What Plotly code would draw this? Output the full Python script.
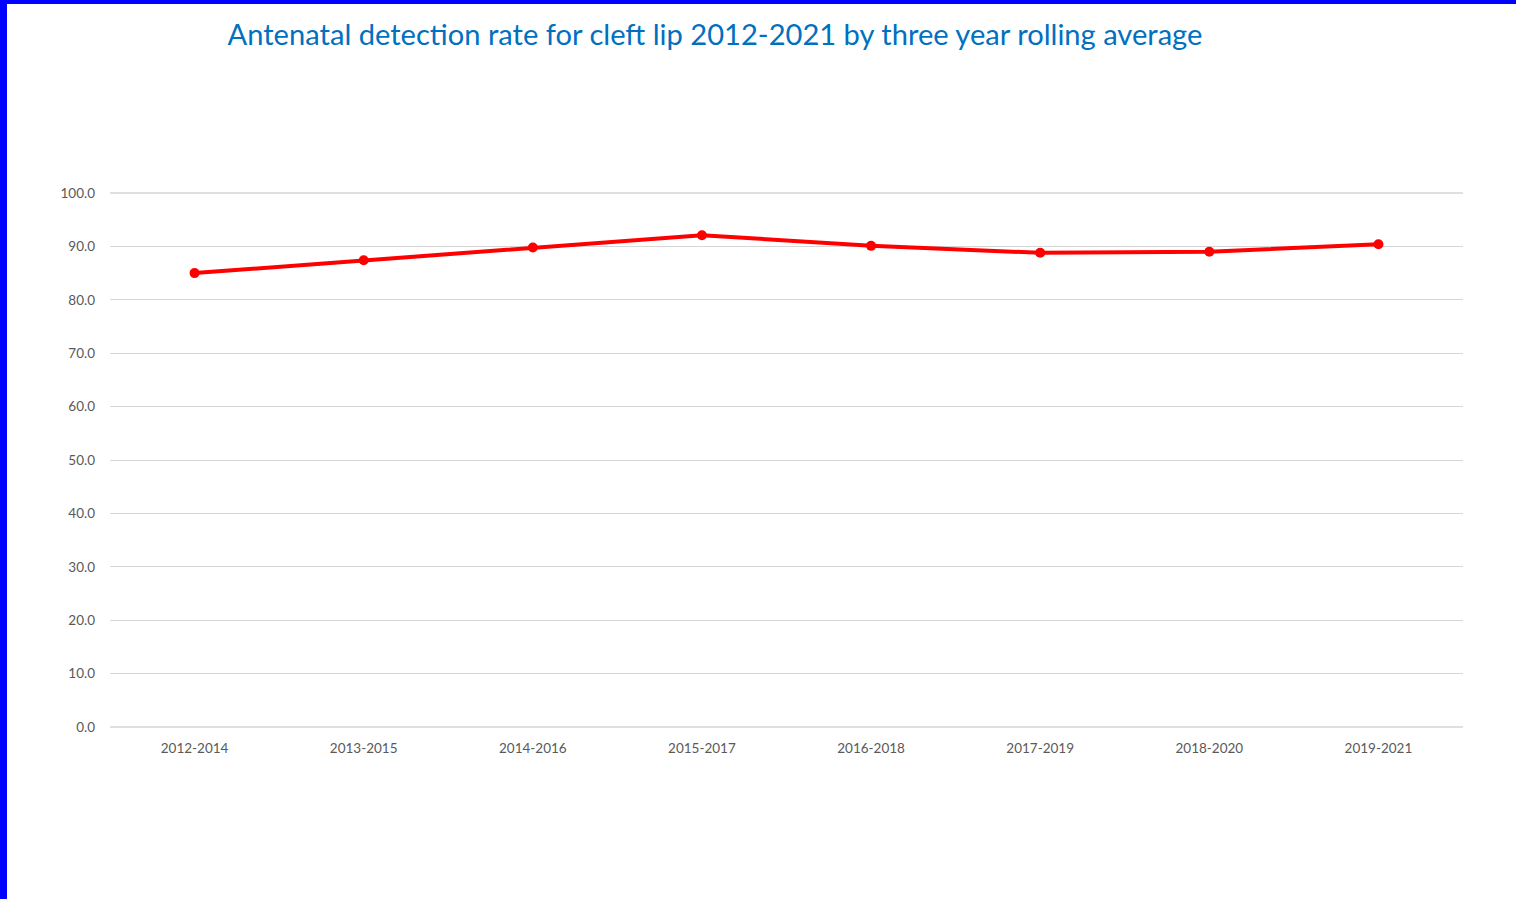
import plotly.graph_objects as go

periods = ["2012-2014", "2013-2015", "2014-2016", "2015-2017",
           "2016-2018", "2017-2019", "2018-2020", "2019-2021"]
detection_rate = [85.0, 87.4, 89.8, 92.1, 90.1, 88.8, 89.0, 90.4]
y_ticks = [0, 10, 20, 30, 40, 50, 60, 70, 80, 90, 100]

W, H = 1516, 899
L, R, T, B = 110, 53, 193, 172
pw, ph = W - L - R, H - T - B

def px_x(p):
    return (p - L) / pw

def px_y(p):
    return (H - B - p) / ph

GRID = "#D6D6D6"

fig = go.Figure()
fig.add_trace(go.Scatter(
    x=list(range(len(periods))), y=detection_rate, mode="lines+markers",
    line=dict(color="#FF0000", width=4),
    marker=dict(color="#FF0000", size=10),
    showlegend=False, hoverinfo="y", cliponaxis=False,
))

fig.update_layout(
    width=W, height=H,
    margin=dict(l=L, r=R, t=T, b=B),
    paper_bgcolor="white", plot_bgcolor="white",
    font=dict(family="Lato, Open Sans, sans-serif", color="#595959", size=13.5),
    title=dict(text="Antenatal detection rate for cleft lip 2012-2021 by three year rolling average",
               font=dict(family="Lato, Open Sans, sans-serif", size=29.1, color="#0070C0"),
               x=715 / W, xanchor="center", xref="container",
               y=1 - 35 / H, yanchor="middle", yref="container"),
    xaxis=dict(range=[-0.5, len(periods) - 0.5], tickmode="array",
               tickvals=list(range(len(periods))), ticktext=periods,
               showgrid=False, zeroline=False, showline=False, ticks="",
               ticklabelstandoff=11),
    yaxis=dict(range=[0, 100], tickmode="array", tickvals=y_ticks,
               ticktext=[f"{v:.1f}" for v in y_ticks],
               showgrid=True, gridcolor=GRID, gridwidth=1.4,
               zeroline=False, showline=False, ticks="",
               ticklabelstandoff=14),
    shapes=[
        dict(type="line", xref="paper", yref="paper", x0=0, x1=1, y0=0, y1=0,
             line=dict(color=GRID, width=1.4), layer="below"),
        dict(type="line", xref="paper", yref="paper", x0=0, x1=1, y0=1, y1=1,
             line=dict(color=GRID, width=1.4), layer="below"),
        dict(type="rect", xref="paper", yref="paper",
             x0=px_x(0), x1=px_x(7), y0=px_y(H), y1=px_y(0),
             fillcolor="#0000FF", line=dict(width=0)),
        dict(type="rect", xref="paper", yref="paper",
             x0=px_x(0), x1=px_x(W), y0=px_y(4), y1=px_y(0),
             fillcolor="#0000FF", line=dict(width=0)),
    ],
)

fig.write_html("out.html")
